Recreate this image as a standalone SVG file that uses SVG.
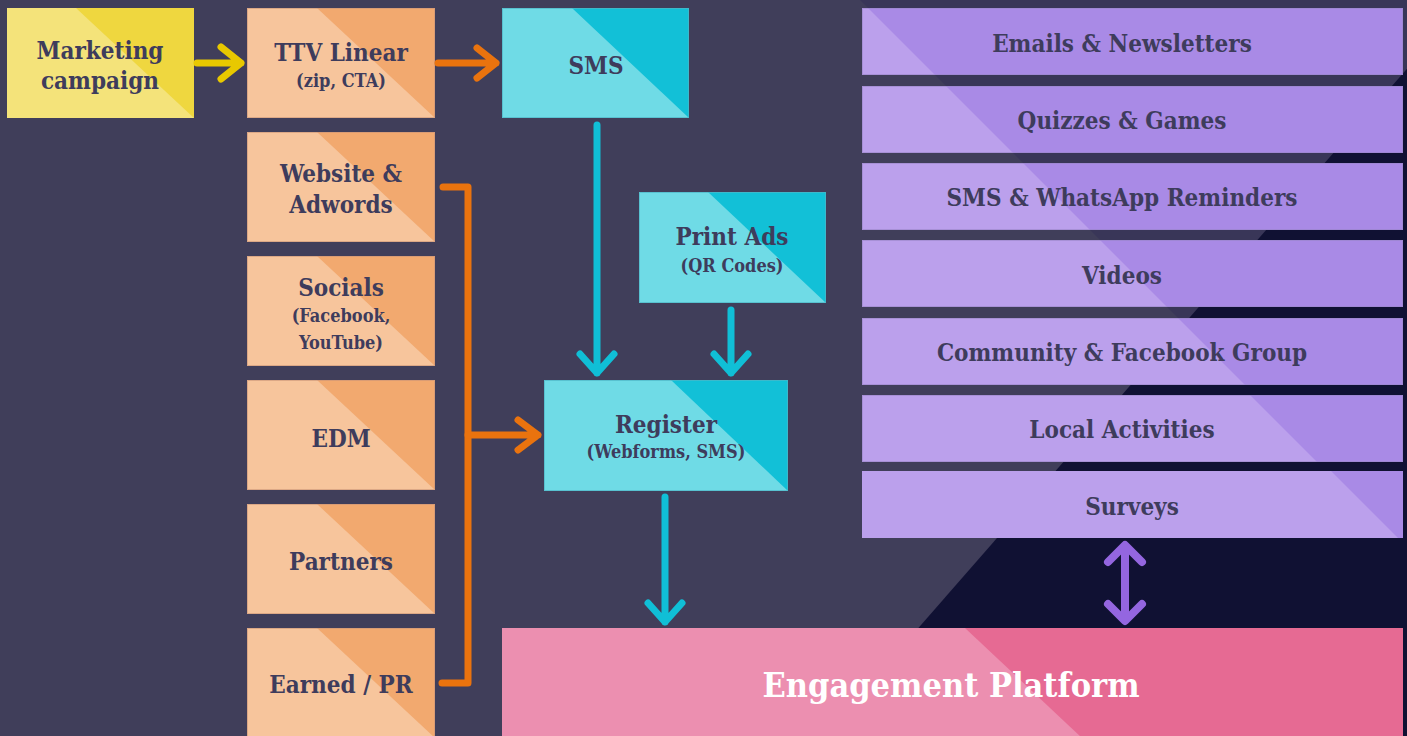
<svg xmlns="http://www.w3.org/2000/svg" width="1407" height="736" viewBox="0 0 1407 736">
<style>
text{font-family:"DejaVu Serif Condensed","DejaVu Serif",serif;font-stretch:condensed;font-weight:bold;fill:#3e3c5c;text-anchor:middle}
.m{font-size:24px}
.s{font-size:18px}
.big{font-size:34px;fill:#ffffff}
.yl{fill:#f4e37a}.yd{fill:#efd73f}
.ol{fill:#f7c59c}.od{fill:#f2a96f}
.cl{fill:#6fdbe6}.cd{fill:#12c0d7}
.pl{fill:#bba0ec}.pd{fill:#a98ae6}
.kl{fill:#ec8fb0}.kd{fill:#e66a93}
.bo{fill:none;stroke:#c99478;stroke-opacity:.6;stroke-width:1}
.bc{fill:none;stroke:#4fb6c6;stroke-opacity:.7;stroke-width:1}
.bp{fill:none;stroke:#9a86c8;stroke-opacity:.6;stroke-width:1}
.ln{fill:none;stroke-width:7;stroke-linecap:round;stroke-linejoin:round}
.ly{stroke:#e8c800}.lo{stroke:#ea730e}.lc{stroke:#10bfd6}.lp{stroke:#9466e0;stroke-width:8}
</style>
<rect x="0" y="0" width="1407" height="736" fill="#403e5a"/>
<polygon points="860,0 1407,0 1407,547" fill="#393658"/>
<polygon points="1467,0 1500,0 1500,736 824,736" fill="#101133"/>

<g id="marketing">
<rect class="yl" x="7" y="8" width="187" height="110"/>
<polygon class="yd" points="76,8 194,8 194,118"/>
<text class="m" x="100" y="59">Marketing</text>
<text class="m" x="100" y="89">campaign</text>
</g>

<g id="ttv">
<rect class="ol" x="247" y="8" width="188" height="110"/>
<polygon class="od" points="317,8 435,8 435,118"/>
<rect class="bo" x="247.5" y="8.5" width="187" height="109"/>
<text class="m" x="341" y="61">TTV Linear</text>
<text class="s" x="341" y="87">(zip, CTA)</text>
</g>
<g id="website">
<rect class="ol" x="247" y="132" width="188" height="110"/>
<polygon class="od" points="317,132 435,132 435,242"/>
<rect class="bo" x="247.5" y="132.5" width="187" height="109"/>
<text class="m" x="341" y="182">Website &amp;</text>
<text class="m" x="341" y="213">Adwords</text>
</g>
<g id="socials">
<rect class="ol" x="247" y="256" width="188" height="110"/>
<polygon class="od" points="317,256 435,256 435,366"/>
<rect class="bo" x="247.5" y="256.5" width="187" height="109"/>
<text class="m" x="341" y="296">Socials</text>
<text class="s" x="341" y="322">(Facebook,</text>
<text class="s" x="341" y="349">YouTube)</text>
</g>
<g id="edm">
<rect class="ol" x="247" y="380" width="188" height="110"/>
<polygon class="od" points="317,380 435,380 435,490"/>
<rect class="bo" x="247.5" y="380.5" width="187" height="109"/>
<text class="m" x="341" y="447">EDM</text>
</g>
<g id="partners">
<rect class="ol" x="247" y="504" width="188" height="110"/>
<polygon class="od" points="317,504 435,504 435,614"/>
<rect class="bo" x="247.5" y="504.5" width="187" height="109"/>
<text class="m" x="341" y="570">Partners</text>
</g>
<g id="earned">
<rect class="ol" x="247" y="628" width="188" height="110"/>
<polygon class="od" points="317,628 435,628 435,738"/>
<rect class="bo" x="247.5" y="628.5" width="187" height="109"/>
<text class="m" x="341" y="693">Earned / PR</text>
</g>

<g id="sms">
<rect class="cl" x="502" y="8" width="187" height="110"/>
<polygon class="cd" points="572,8 689,8 689,118"/>
<rect class="bc" x="502.5" y="8.5" width="186" height="109"/>
<text class="m" x="596" y="74">SMS</text>
</g>
<g id="print">
<rect class="cl" x="639" y="192" width="187" height="111"/>
<polygon class="cd" points="708,192 826,192 826,303"/>
<rect class="bc" x="639.5" y="192.5" width="186" height="110"/>
<text class="m" x="732" y="245">Print Ads</text>
<text class="s" x="732" y="272">(QR Codes)</text>
</g>
<g id="register">
<rect class="cl" x="544" y="380" width="244" height="111"/>
<polygon class="cd" points="671,380 788,380 788,491"/>
<rect class="bc" x="544.5" y="380.5" width="243" height="110"/>
<text class="m" x="666" y="433">Register</text>
<text class="s" x="666" y="458">(Webforms, SMS)</text>
</g>

<g id="engagement">
<rect class="kl" x="502" y="628" width="901" height="110"/>
<polygon class="kd" points="965,628 1403,628 1403,738 1082,738"/>
<text class="big" x="951" y="697">Engagement Platform</text>
</g>

<g id="channels">
<g id="emails">
<rect class="pd" x="862" y="8" width="541" height="67"/>
<polygon class="pl" points="862,8 868,8 935,75 862,75"/>
<rect class="bp" x="862.5" y="8.5" width="540" height="66"/>
<text class="m" x="1122" y="52">Emails &amp; Newsletters</text>
</g>
<g id="quizzes">
<rect class="pd" x="862" y="86" width="541" height="67"/>
<polygon class="pl" points="862,86 946,86 1013,153 862,153"/>
<rect class="bp" x="862.5" y="86.5" width="540" height="66"/>
<text class="m" x="1122" y="129">Quizzes &amp; Games</text>
</g>
<g id="reminders">
<rect class="pd" x="862" y="163" width="541" height="67"/>
<polygon class="pl" points="862,163 1023,163 1090,230 862,230"/>
<rect class="bp" x="862.5" y="163.5" width="540" height="66"/>
<text class="m" x="1122" y="206">SMS &amp; WhatsApp Reminders</text>
</g>
<g id="videos">
<rect class="pd" x="862" y="240" width="541" height="67"/>
<polygon class="pl" points="862,240 1100,240 1167,307 862,307"/>
<rect class="bp" x="862.5" y="240.5" width="540" height="66"/>
<text class="m" x="1122" y="284">Videos</text>
</g>
<g id="community">
<rect class="pd" x="862" y="318" width="541" height="67"/>
<polygon class="pl" points="862,318 1178,318 1245,385 862,385"/>
<rect class="bp" x="862.5" y="318.5" width="540" height="66"/>
<text class="m" x="1122" y="361">Community &amp; Facebook Group</text>
</g>
<g id="local">
<rect class="pd" x="862" y="395" width="541" height="67"/>
<polygon class="pl" points="862,395 1250,395 1317,462 862,462"/>
<rect class="bp" x="862.5" y="395.5" width="540" height="66"/>
<text class="m" x="1122" y="438">Local Activities</text>
</g>
<g id="surveys">
<rect class="pd" x="862" y="471" width="541" height="67"/>
<polygon class="pl" points="862,471 1331,471 1398,538 862,538"/>
<text class="m" x="1132" y="515">Surveys</text>
</g>
</g>

<g id="connectors">
<path class="ln ly" d="M197,63 H241 M221,47 L241,63 L221,79"/>
<path class="ln lo" d="M438,63 H496 M477,48 L496,63 L477,78"/>
<path class="ln lo" d="M443,187 H468 V683 H442"/>
<path class="ln lo" d="M468,435 H538 M518,420 L538,435 L518,450"/>
<path class="ln lc" d="M597,125 V373 M580,354 L597,373 L614,354"/>
<path class="ln lc" d="M731,310 V373 M714,354 L731,373 L748,354"/>
<path class="ln lc" d="M665,497 V622 M648,603 L665,622 L682,603"/>
<path class="ln lp" d="M1125,546 V620 M1108,562 L1125,545 L1142,562 M1108,604 L1125,621 L1142,604"/>
</g>
</svg>
